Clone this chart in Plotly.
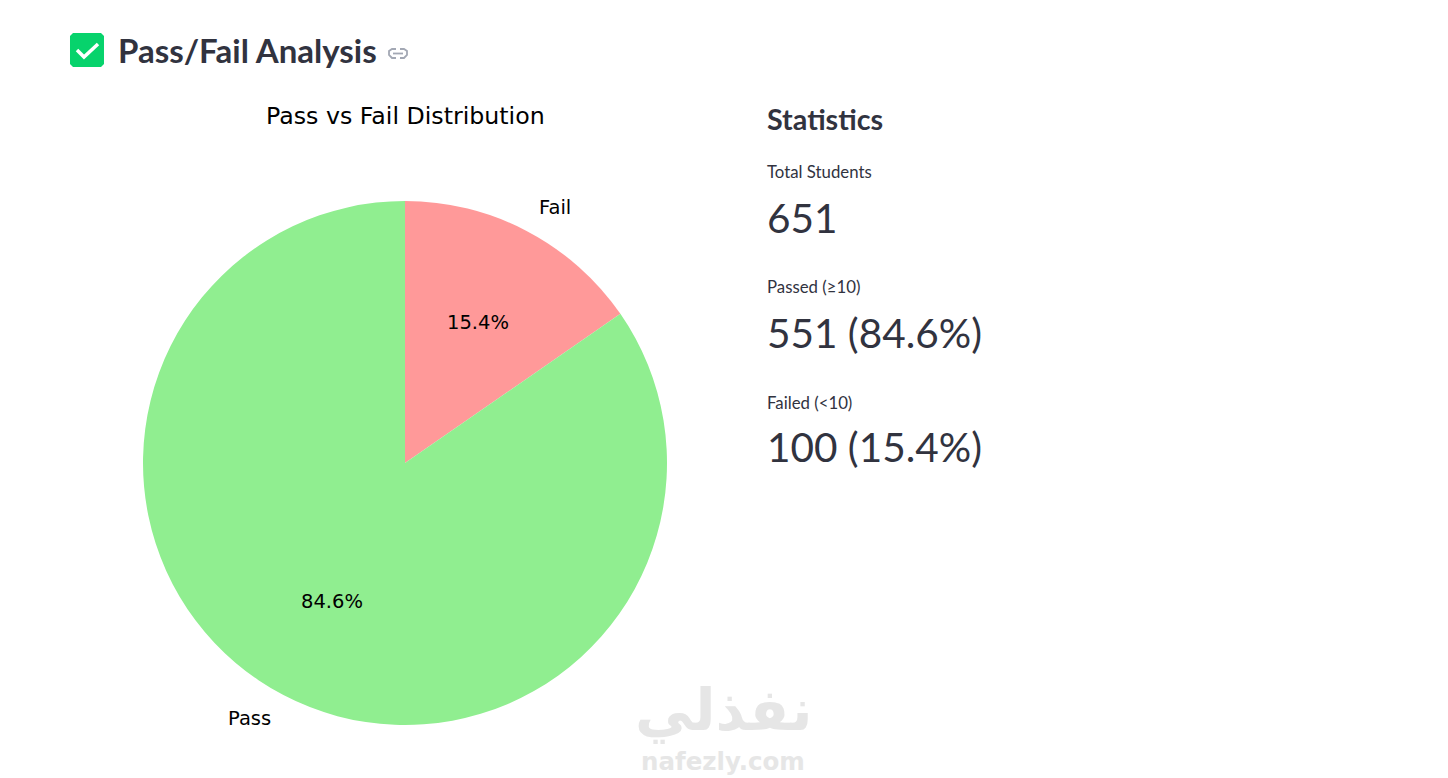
import math
import plotly.graph_objects as go

W, H = 1448, 778

categories = ["Fail", "Pass"]
values = [100, 551]
colors = ["#FF9999", "#90EE90"]
heading = "Pass/Fail Analysis"
chart_title = "Pass vs Fail Distribution"
stats_heading = "Statistics"
stat_labels = ["Total Students", "Passed (≥10)", "Failed (<10)"]
stat_values = ["651", "551 (84.6%)", "100 (15.4%)"]
stat_label_y = [172, 287, 402]
stat_value_y = [217, 332, 447]

UI = "Lato"
INK = "#31333F"
CX, CY, R = 405, 463, 262


def px(x):
    return x / W


def py(y):
    return 1 - y / H


def text(x, y, s, size, color="#000000", family="DejaVu Sans", anchor="left", weight=None):
    return dict(
        x=px(x), y=py(y), xref="paper", yref="paper", text=s, showarrow=False,
        xanchor=anchor, yanchor="middle", align=anchor,
        font=dict(family=family, size=size, color=color, weight=weight),
    )


fig = go.Figure(
    go.Pie(
        labels=categories, values=values, sort=False, direction="clockwise",
        rotation=0, textinfo="none", hoverinfo="label+percent",
        marker=dict(colors=colors, line=dict(width=0)),
        domain=dict(x=[px(CX - R), px(CX + R)], y=[py(CY + R), py(CY - R)]),
        showlegend=False,
    )
)

ann = [
    text(CX, 115.5, chart_title, 23.7, anchor="center"),
    text(116, 50, heading, 33, INK, UI, weight=700),
    text(765, 119, stats_heading, 28.7, INK, UI, weight=700),
    text(633, 710, "نفذلي", 58, "#E6E6E6", anchor="left", weight=700),
    text(639, 761, "nafezly.com", 24.5, "#E6E6E6", anchor="left", weight=700),
]

total = sum(values)
cum = 0
for name, v in zip(categories, values):
    # angle of the slice's middle, measured clockwise from the top
    mid = 2 * math.pi * (cum + v / 2) / total
    cum += v
    sx, cy_ = math.sin(mid), math.cos(mid)
    ann.append(text(CX + 0.6 * R * sx, CY - 0.6 * R * cy_ - 1, f"{100 * v / total:.1f}%", 19.5, anchor="center"))
    ann.append(text(CX + 1.1 * R * sx + (-2 if sx > 0 else 2), CY - 1.1 * R * cy_, name, 19.5,
                    anchor="left" if sx > 0 else "right"))

for lab, val, ly, vy in zip(stat_labels, stat_values, stat_label_y, stat_value_y):
    ann.append(text(765, ly, lab, 16.8, INK, UI))
    ann.append(text(765, vy, val, 40.5, INK, UI))


def path_px(points):
    return "M " + " L ".join(f"{px(x):.5f} {py(y):.5f}" for x, y in points)


shapes = [
    # check-box icon
    dict(type="path", xref="paper", yref="paper", fillcolor="#07D36C", line=dict(width=0),
         path=path_px([(73, 33), (101, 33), (104, 36), (104, 64), (101, 67), (73, 67), (70, 64), (70, 36)]) + " Z"),
    dict(type="path", xref="paper", yref="paper", line=dict(color="white", width=3.5),
         path=path_px([(77, 50), (84, 57), (98, 44)])),
    # link icon
    dict(type="path", xref="paper", yref="paper", line=dict(color="#A3A8B4", width=1.8),
         path=path_px([(396, 49), (392, 49), (389, 51), (389, 55), (392, 58), (396, 58)])),
    dict(type="path", xref="paper", yref="paper", line=dict(color="#A3A8B4", width=1.8),
         path=path_px([(400, 49), (404, 49), (407, 51), (407, 55), (404, 58), (400, 58)])),
    dict(type="line", xref="paper", yref="paper", line=dict(color="#A3A8B4", width=1.8),
         x0=px(393), x1=px(403), y0=py(53.5), y1=py(53.5)),
]

fig.update_layout(
    width=W, height=H, margin=dict(l=0, r=0, t=0, b=0),
    paper_bgcolor="white", plot_bgcolor="white",
    annotations=ann, shapes=shapes,
)

fig.write_html("out.html", config=dict(displayModeBar=False),
               post_script="document.body.style.margin='0';document.body.style.overflow='hidden';")
